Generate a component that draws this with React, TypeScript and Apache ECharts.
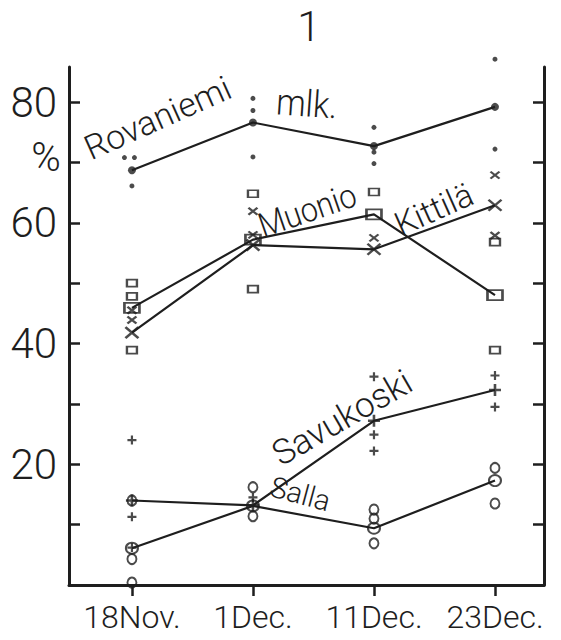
import React, { useEffect, useRef } from 'react';
import * as echarts from 'echarts';

const categories = ['18Nov.', '1Dec.', '11Dec.', '23Dec.'];
const yTickValues = [10, 20, 30, 40, 50, 60, 70, 80];
const yLabelValues = [20, 40, 60, 80];
const titleText = '1';
const unitText = '%';

// mean lines (one value per date)
const rovaniemiMean = [68.7, 76.6, 72.7, 79.2];
const muonioMean = [45.9, 57.2, 61.4, 48.0];
const kittilaMean = [41.8, 56.3, 55.6, 62.9];
const savukoskiMean = [14.0, 13.2, 27.2, 32.3];
const sallaMean = [6.1, 13.1, 9.4, 17.3];

// individual observations: [date index, value]
const rovaniemiObs = [[0, 70.8], [0, 70.8], [0, 66.1], [1, 80.6], [1, 78.6], [1, 70.9], [2, 75.8], [2, 71.7], [2, 69.8], [3, 87.1], [3, 72.2]];
const muonioObs = [[0, 50.0], [0, 47.8], [0, 38.9], [1, 64.8], [1, 49.0], [2, 65.1], [3, 56.8], [3, 38.9]];
const kittilaObs = [[0, 45.5], [0, 43.9], [1, 61.9], [1, 58.0], [2, 57.5], [3, 67.9], [3, 57.9]];
const savukoskiObs = [[0, 24.0], [0, 11.3], [0, 6.2], [1, 14.5], [2, 34.5], [2, 24.9], [2, 22.2], [3, 34.7], [3, 29.5]];
const sallaObs = [[0, 14.0], [0, 4.3], [0, 0.4], [1, 16.2], [1, 11.4], [2, 12.5], [2, 11.0], [2, 6.9], [3, 19.4], [3, 13.5]];

const INK = '#1e1e1e';
const FONT = 'Roboto';
const X_PATH = 'path://M0,0L10,10M10,0L0,10';
const PLUS_PATH = 'path://M5,0L5,10M0,5L10,5';

function meanPairs(arr: number[]) {
  return arr.map((v, i) => [i, v]);
}

// spread coincident observations sideways so both remain visible
function spread(obs: number[][]) {
  const seen: Record<string, number> = {};
  const counts: Record<string, number> = {};
  obs.forEach(([c, v]) => {
    const k = c + ':' + v;
    counts[k] = (counts[k] || 0) + 1;
  });
  return obs.map(([c, v]) => {
    const k = c + ':' + v;
    const n = counts[k];
    const idx = seen[k] || 0;
    seen[k] = idx + 1;
    if (n > 1) {
      return { value: [c, v], symbolOffset: [(idx - (n - 1) / 2) * 10 - 2.5, 0] };
    }
    return { value: [c, v] };
  });
}

function lineSeries(name: string, arr: number[]) {
  return {
    name,
    type: 'line',
    data: meanPairs(arr),
    symbol: 'none',
    lineStyle: { color: INK, width: 2.2 },
    z: 2,
    silent: true,
  };
}

function markerSeries(name: string, data: any[], symbol: string, size: any, filled: boolean, bw = 2) {
  return {
    name,
    type: 'scatter',
    data,
    symbol,
    symbolSize: size,
    clip: false,
    itemStyle: filled
      ? { color: INK }
      : { color: 'rgba(0,0,0,0)', borderColor: INK, borderWidth: bw },
    z: 3,
    silent: true,
  };
}

function label(text: string, x: number, y: number, deg: number, fontSize: number, scaleX = 1) {
  return {
    type: 'text',
    x,
    y,
    rotation: (deg * Math.PI) / 180,
    scaleX,
    style: {
      text,
      fill: INK,
      font: `300 ${fontSize}px ${FONT}`,
      textAlign: 'left',
      textVerticalAlign: 'bottom',
    },
    silent: true,
  };
}

export default function App() {
  const ref = useRef<HTMLDivElement>(null);
  useEffect(() => {
    if (!ref.current) return;
    const chart = echarts.init(ref.current, undefined, { renderer: 'svg' });
    const yAxisCommon = {
      type: 'value',
      min: 0,
      max: 85.8,
      splitLine: { show: false },
      axisLine: { show: true, onZero: false, lineStyle: { color: INK, width: 3 } },
      axisTick: { show: true, inside: true, length: 11, customValues: yTickValues, lineStyle: { color: INK, width: 2.5 } },
    };
    chart.setOption({
      animation: false,
      backgroundColor: '#fff',
      grid: { left: 69, right: 17, top: 67, bottom: 55, containLabel: false },
      xAxis: {
        type: 'value',
        min: -0.52,
        max: 3.405,
        splitLine: { show: false },
        axisLine: { show: true, onZero: false, lineStyle: { color: INK, width: 3 } },
        axisTick: { show: true, inside: false, length: 11, customValues: [0, 1, 2, 3], lineStyle: { color: INK, width: 2.5 } },
        axisLabel: {
          customValues: [0, 1, 2, 3],
          formatter: (v: number) => categories[Math.round(v)] ?? '',
          color: INK,
          fontFamily: FONT,
          fontWeight: 300,
          fontSize: 32,
          margin: 16,
        },
      },
      yAxis: [
        {
          ...yAxisCommon,
          position: 'left',
          axisLabel: {
            customValues: yLabelValues,
            color: INK,
            fontFamily: FONT,
            fontWeight: 300,
            fontSize: 42,
            margin: 12,
          },
        },
        {
          ...yAxisCommon,
          position: 'right',
          axisLabel: { show: false },
        },
      ],
      graphic: [
        {
          type: 'text',
          x: 309,
          y: 26,
          style: { text: titleText, fill: INK, font: `300 42px ${FONT}`, textAlign: 'center', textVerticalAlign: 'middle' },
          silent: true,
        },
        {
          type: 'text',
          x: 46,
          y: 157,
          style: { text: unitText, fill: INK, font: `300 40px ${FONT}`, textAlign: 'center', textVerticalAlign: 'middle' },
          silent: true,
        },
        label('Rovaniemi', 93, 165, 24, 34, 1.0),
        label('mlk.', 275, 120, -4, 37, 0.9),
        label('Muonio', 265, 243, 19, 34, 0.9),
        label('Kittilä', 403, 241, 24, 33, 1.0),
        label('Savukoski', 284, 472, 30, 35, 1.0),
        label('Salla', 267, 500, -15, 29, 1.0),
      ],
      series: [
        lineSeries('Rovaniemi mlk.', rovaniemiMean),
        lineSeries('Muonio', muonioMean),
        lineSeries('Kittilä', kittilaMean),
        lineSeries('Savukoski', savukoskiMean),
        lineSeries('Salla', sallaMean),
        markerSeries('Rovaniemi mlk. mean', meanPairs(rovaniemiMean), 'circle', 8, true),
        markerSeries('Rovaniemi mlk. obs', spread(rovaniemiObs), 'circle', 5, true),
        markerSeries('Muonio mean', meanPairs(muonioMean), 'rect', [15, 10], false, 2.2),
        markerSeries('Muonio obs', spread(muonioObs), 'rect', [10, 7], false, 2),
        markerSeries('Kittilä mean', meanPairs(kittilaMean), X_PATH, [13, 11], false, 2.4),
        markerSeries('Kittilä obs', spread(kittilaObs), X_PATH, [9, 7], false, 2.2),
        markerSeries('Savukoski mean', meanPairs(savukoskiMean), PLUS_PATH, [12, 12], false, 2.6),
        markerSeries('Savukoski obs', spread(savukoskiObs), PLUS_PATH, [9, 9], false, 2.2),
        markerSeries('Salla mean', meanPairs(sallaMean), 'circle', [12, 11], false, 2),
        markerSeries('Salla obs', spread(sallaObs), 'circle', [9, 10], false, 2),
      ],
    });
    return () => chart.dispose();
  }, []);
  return <div ref={ref} style={{ position: 'fixed', left: 0, top: 0, width: 561, height: 640, background: '#fff' }} />;
}
